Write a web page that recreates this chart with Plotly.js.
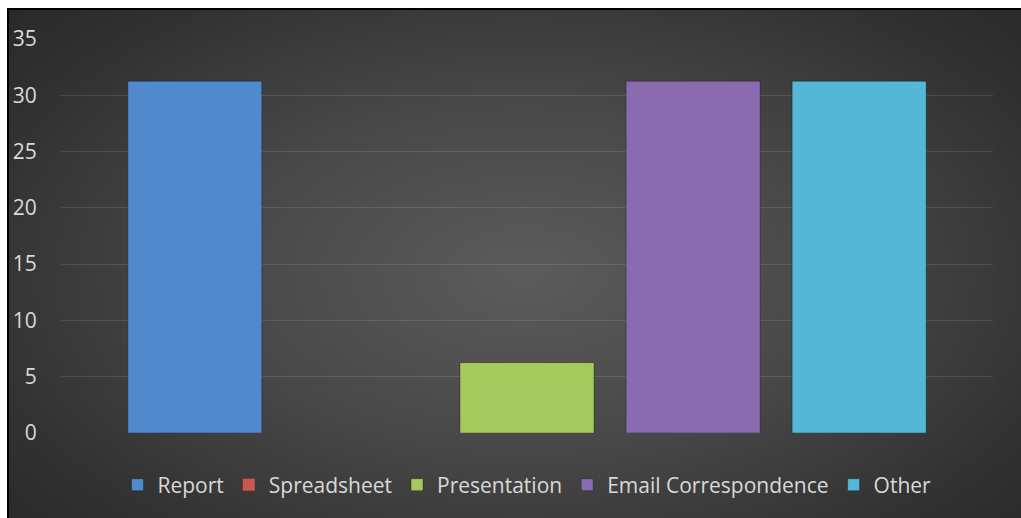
<!DOCTYPE html>
<html>
<head>
<meta charset="utf-8">
<script src="https://cdn.plot.ly/plotly-3.0.1.min.js"></script>
<style>
  html, body { margin: 0; padding: 0; background: #ffffff; width: 1021px; height: 518px; overflow: hidden; }
  #bg { position: absolute; left: 7px; top: 8px; width: 1014px; height: 510px;
        border-left: 2px solid #000; border-top: 2px solid #000; box-sizing: border-box;
        background: radial-gradient(ellipse 75% 85% at 51% 52%, #5b5b5b 0%, #484848 40%, #313131 75%, #252525 100%); }
  #chart { position: absolute; left: 0; top: 0; width: 1021px; height: 518px; }
</style>
</head>
<body>
<div id="bg"></div>
<div id="chart"></div>
<script>
const seriesNames = ["Report", "Spreadsheet", "Presentation", "Email Correspondence", "Other"];
const seriesValues = [31.25, 0, 6.25, 31.25, 31.25];
const seriesColors = ["#5089cc", "#cc5652", "#a5c95c", "#8a6bb0", "#54b7d5"];
const category = [""];
const yTicks = [0, 5, 10, 15, 20, 25, 30, 35];

const traces = seriesNames.map((name, i) => ({
  type: "bar",
  name: name,
  x: category,
  y: [seriesValues[i]],
  marker: { color: seriesColors[i], line: { color: "rgba(0,0,0,0.3)", width: seriesValues[i] > 0 ? 1 : 0 } },
  hoverinfo: "skip"
}));

const layout = {
  width: 1021,
  height: 518,
  paper_bgcolor: "rgba(0,0,0,0)",
  plot_bgcolor: "rgba(0,0,0,0)",
  margin: { l: 61, r: 28, t: 39, b: 85 },
  barmode: "group",
  bargap: 0.109,
  bargroupgap: 0.193,
  font: { family: "Open Sans, sans-serif", size: 21, color: "#d9d9d9" },
  xaxis: { showticklabels: false, showgrid: false, zeroline: false, showline: false, fixedrange: true },
  yaxis: {
    range: [0, 35],
    tickvals: yTicks,
    ticktext: yTicks.map(String),
    showgrid: true,
    gridcolor: "rgba(255,255,255,0.11)",
    gridwidth: 1,
    zeroline: false,
    showline: false,
    ticks: "outside",
    ticklen: 19,
    tickcolor: "rgba(0,0,0,0)",
    tickfont: { family: "Open Sans, sans-serif", size: 21, color: "#d9d9d9" },
    fixedrange: true
  },
  showlegend: true,
  legend: {
    orientation: "h",
    x: 0.5, xanchor: "center",
    y: -0.132, yanchor: "middle",
    font: { family: "Open Sans, sans-serif", size: 21, color: "#d9d9d9" },
    bgcolor: "rgba(0,0,0,0)",
    itemclick: false, itemdoubleclick: false
  }
};

Plotly.newPlot("chart", traces, layout, { displayModeBar: false, staticPlot: true });
</script>
</body>
</html>
